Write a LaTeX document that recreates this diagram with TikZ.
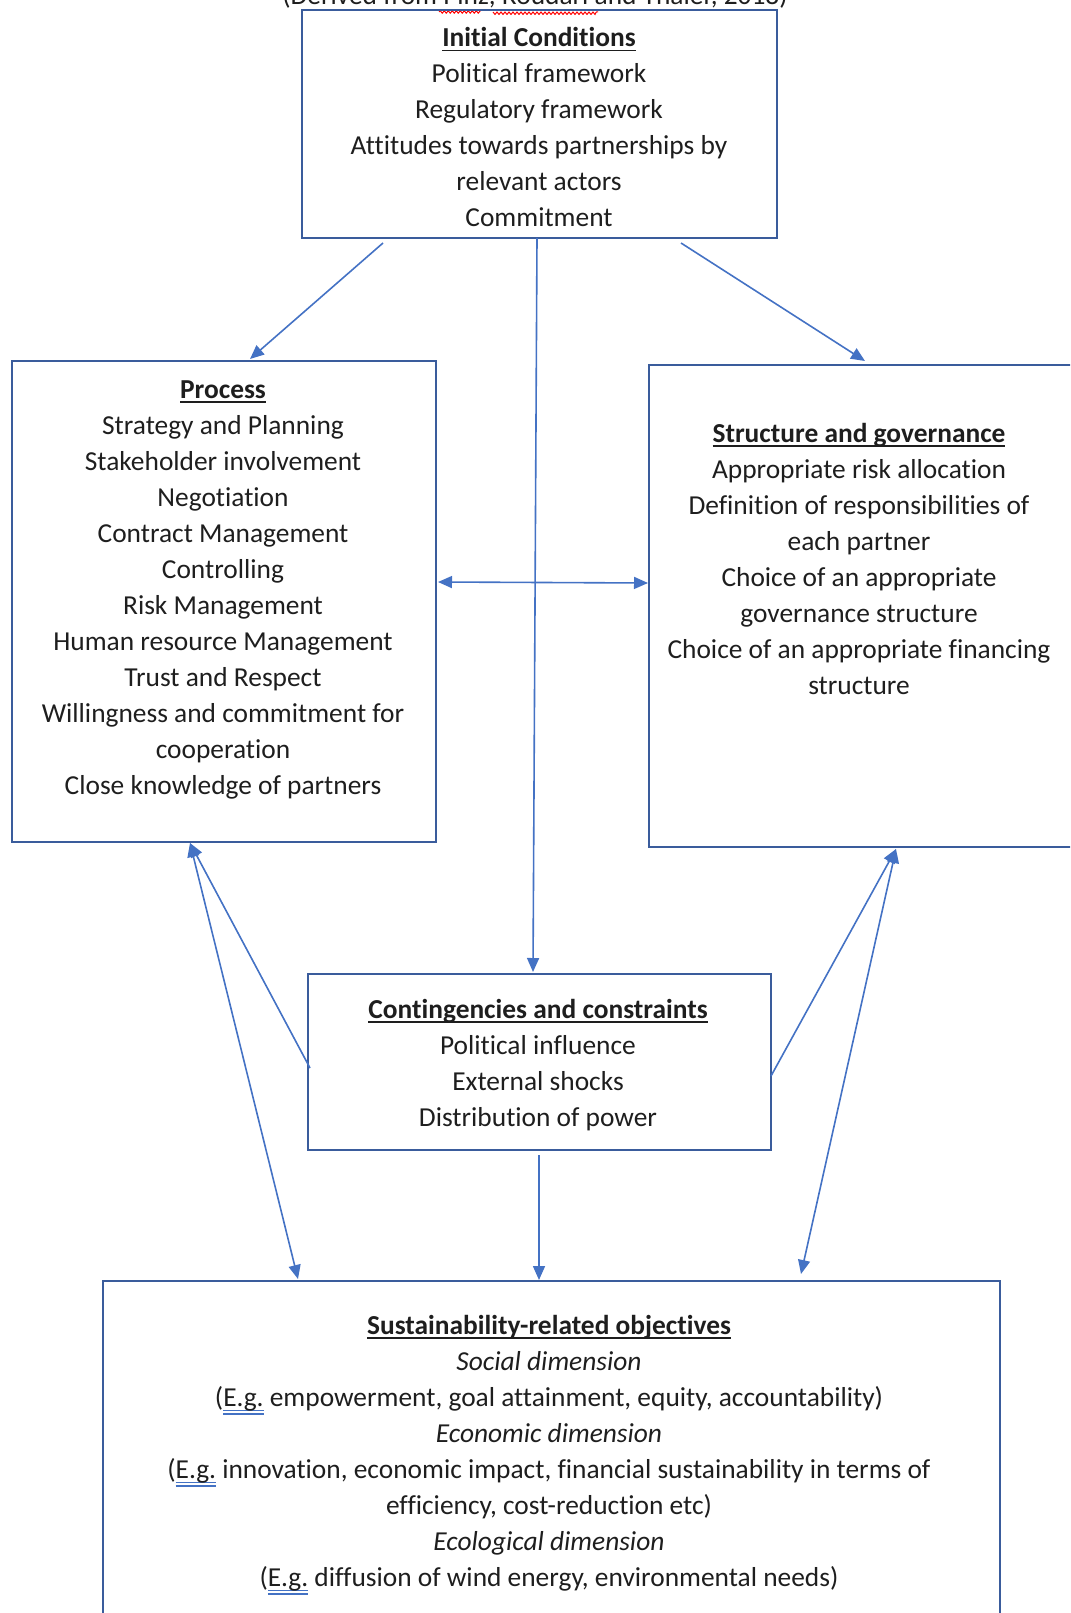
\documentclass[tikz,border=0pt]{standalone}
\usepackage{fontspec}
\setmainfont{Carlito}[Ligatures=NoCommon]
\usetikzlibrary{arrows.meta,positioning,decorations.pathmorphing}
\definecolor{boxblue}{HTML}{3A5C9C}
\definecolor{arrowblue}{HTML}{4472C4}
\definecolor{txtgray}{HTML}{1E1E1E}
\newcommand{\headline}[1]{\setbox0\hbox{\bfseries #1}\rlap{\rule[-4.5pt]{\wd0}{1.8pt}}\box0}
\newcommand{\egmark}{\setbox0\hbox{E.g.}\rlap{\color{arrowblue}\rule[-5pt]{\wd0}{1.4pt}\hskip-\wd0\rule[-8.5pt]{\wd0}{1.4pt}}\box0}

\begin{document}
\begin{tikzpicture}[x=1pt,y=-1pt,
  box/.style={draw=boxblue,line width=1.8pt,inner sep=0pt},
  txt/.style={align=center,text=txtgray,inner sep=0pt,font=\fontsize{27.4}{36}\selectfont},
  link/.style={draw=arrowblue,line width=1.6pt},
  >={Triangle[length=14pt,width=12pt]}]
  \useasboundingbox (0,0) rectangle (1070,1613);
  \clip (0,0) rectangle (1070,1613);

  % source line, cut at the top
  \node[txt,anchor=base] (note) at (535,5) {(Derived from Pinz, Roudari and Thaler, 2018)};
  \draw[red,line width=1pt,decorate,decoration={snake,amplitude=1.2pt,segment length=4pt}]
    (439,12) -- (480,12) (493,12) -- (598,12);

  % boxes
  \node[box,minimum width=475pt,minimum height=228pt] (init) at (539.5,124) {};
  \node[box,minimum width=424pt,minimum height=481pt] (proc) at (224,601.5) {};
  \node[box,minimum width=446pt,minimum height=482pt] (struct) at (872,606) {};
  \node[box,minimum width=463pt,minimum height=176pt] (cont) at (539.5,1062) {};
  \node[box,minimum width=897pt,minimum height=379pt] (sust) at (551.5,1470.5) {};

  % texts (anchored at the baseline of their last line)
  \node[txt,anchor=base] (inittxt) at (539,227) {\headline{Initial Conditions}\\
    Political framework\\Regulatory framework\\Attitudes towards partnerships by\\
    relevant actors\\Commitment};
  \node[txt,anchor=base] (proctxt) at (223,794) {\headline{Process}\\
    Strategy and Planning\\Stakeholder involvement\\Negotiation\\Contract Management\\
    Controlling\\Risk Management\\Human resource Management\\Trust and Respect\\
    Willingness and commitment for\\cooperation\\Close knowledge of partners};
  \node[txt,anchor=base] (structtxt) at (859,694) {\headline{Structure and governance}\\
    Appropriate risk allocation\\Definition of responsibilities of\\each partner\\
    Choice of an appropriate\\governance structure\\
    Choice of an appropriate financing\\structure};
  \node[txt,anchor=base] (conttxt) at (538,1126) {\headline{Contingencies and constraints}\\
    Political influence\\External shocks\\Distribution of power};
  \node[txt,anchor=base] (susttxt) at (549,1586) {\headline{Sustainability-related objectives}\\
    \textit{Social dimension}\\
    (\egmark{} empowerment, goal attainment, equity, accountability)\\
    \textit{Economic dimension}\\
    (\egmark{} innovation, economic impact, financial sustainability in terms of\\
    efficiency, cost-reduction etc)\\
    \textit{Ecological dimension}\\
    (\egmark{} diffusion of wind energy, environmental needs)};

  % connector ends
  \coordinate (i1) at (383,243);
  \coordinate (i2) at (681,243);
  \coordinate (i3) at (537,238);
  \coordinate (p1) at (250,359);
  \coordinate (p2) at (438,582);
  \coordinate (p3) at (190,843);
  \coordinate (s1) at (865,361);
  \coordinate (s2) at (648,583);
  \coordinate (s3) at (896,849);
  \coordinate (c1) at (533,972);
  \coordinate (c2) at (310,1068);
  \coordinate (c3) at (771,1076);
  \coordinate (c4) at (539,1155);
  \coordinate (o1) at (298,1279);
  \coordinate (o2) at (539,1280);
  \coordinate (o3) at (801,1274);

  % arrows
  \draw[link,->] (i1) -- (p1);
  \draw[link,->] (i2) -- (s1);
  \draw[link,->] (i3) -- (c1);
  \draw[link,<->] (p2) -- (s2);
  \draw[link,->] (c2) -- (p3);
  \draw[link,<->] (p3) -- (o1);
  \draw[link,->] (c3) -- (s3);
  \draw[link,<->] (s3) -- (o3);
  \draw[link,->] (c4) -- (o2);
\end{tikzpicture}
\end{document}
